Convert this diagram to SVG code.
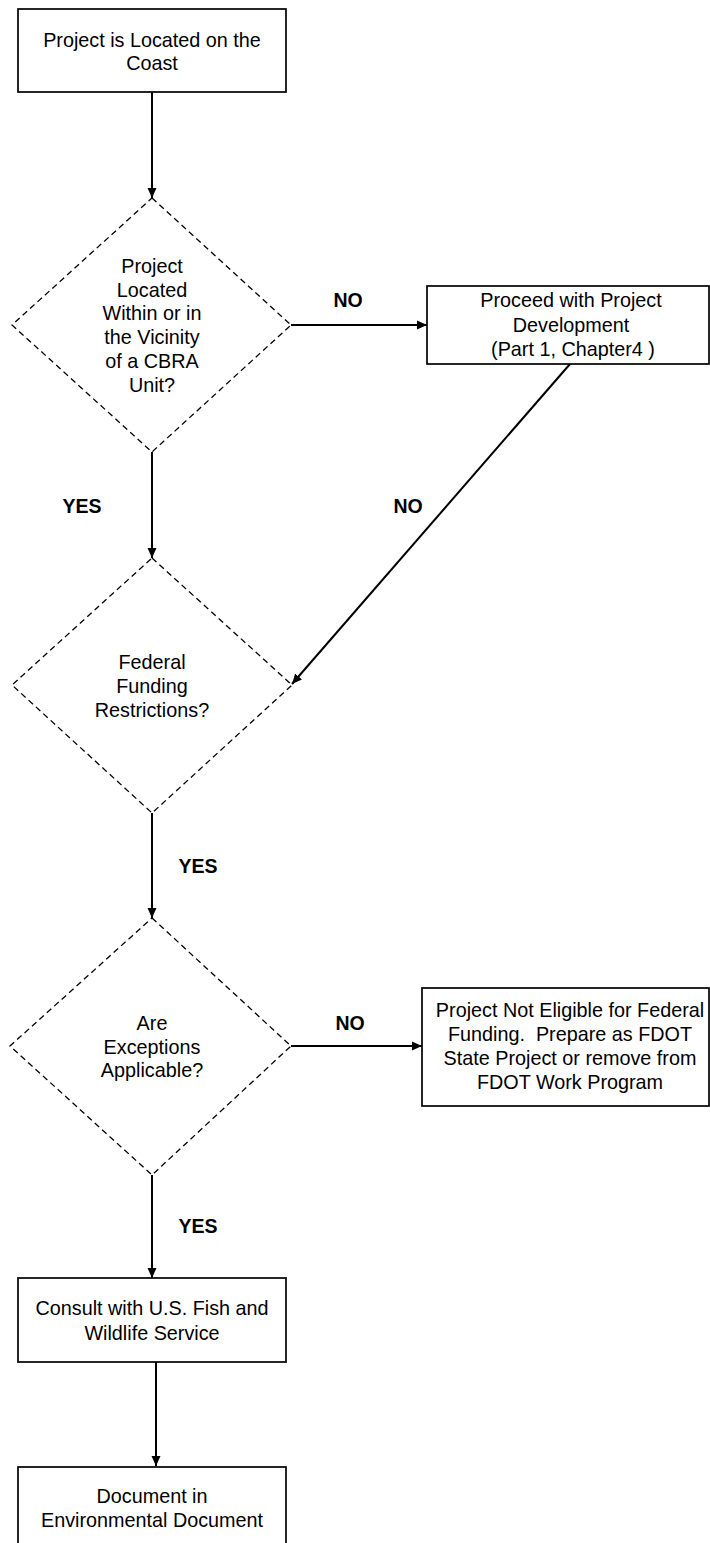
<svg xmlns="http://www.w3.org/2000/svg" width="710" height="1543" viewBox="0 0 710 1543">
<style>
.box{fill:#fff;stroke:#000;stroke-width:1.7}
.dia{fill:#fff;stroke:#000;stroke-width:1.3;stroke-dasharray:6 4}
.t{font-family:"Liberation Sans",Arial,sans-serif;font-size:19.8px;fill:#000;text-anchor:middle;white-space:pre}
.lb{font-family:"Liberation Sans",Arial,sans-serif;font-size:19.5px;font-weight:bold;fill:#000;text-anchor:middle}
.c{stroke:#000;stroke-width:2;fill:none;marker-end:url(#ah)}
</style>
<defs>
<marker id="ah" markerWidth="10" markerHeight="10" refX="10" refY="5" orient="auto" markerUnits="userSpaceOnUse">
<path d="M0,0.5 L10,5 L0,9.5 z" fill="#000"/>
</marker>
</defs>
<rect width="710" height="1543" fill="#fff"/>
<g id="connectors">
<line class="c" x1="152" y1="92" x2="152" y2="198"/>
<line class="c" x1="291" y1="325" x2="427" y2="325"/>
<line class="c" x1="152" y1="452" x2="152" y2="558"/>
<line class="c" x1="570" y1="364" x2="292" y2="684"/>
<line class="c" x1="152" y1="813" x2="152" y2="918"/>
<line class="c" x1="291" y1="1046" x2="422" y2="1046"/>
<line class="c" x1="152" y1="1175" x2="152" y2="1278"/>
<line class="c" x1="156" y1="1362" x2="156" y2="1466"/>
<text class="lb" x="348" y="307">NO</text>
<text class="lb" x="82" y="513">YES</text>
<text class="lb" x="408" y="513">NO</text>
<text class="lb" x="198" y="873">YES</text>
<text class="lb" x="350" y="1030">NO</text>
<text class="lb" x="198" y="1233">YES</text>
</g>
<g id="start">
<rect class="box" x="18" y="9" width="268" height="83"/>
<text class="t" x="152" y="47">Project is Located on the</text>
<text class="t" x="152" y="70">Coast</text>
</g>
<g id="d1">
<polygon class="dia" points="152,198 291,325 152,452 12,325"/>
<text class="t" x="152" y="273">Project</text>
<text class="t" x="152" y="296.5">Located</text>
<text class="t" x="152" y="320">Within or in</text>
<text class="t" x="152" y="344">the Vicinity</text>
<text class="t" x="152" y="368">of a CBRA</text>
<text class="t" x="152" y="392">Unit?</text>
</g>
<g id="proceed">
<rect class="box" x="427" y="286" width="282" height="78"/>
<text class="t" x="571" y="307">Proceed with Project</text>
<text class="t" x="571" y="332">Development</text>
<text class="t" x="573" y="356">(Part 1, Chapter4 )</text>
</g>
<g id="d2">
<polygon class="dia" points="152,558 292,685 152,813 12,685"/>
<text class="t" x="152" y="669">Federal</text>
<text class="t" x="152" y="693">Funding</text>
<text class="t" x="152" y="717">Restrictions?</text>
</g>
<g id="d3">
<polygon class="dia" points="152,918 291,1046 152,1175 10,1046"/>
<text class="t" x="152" y="1030">Are</text>
<text class="t" x="152" y="1054">Exceptions</text>
<text class="t" x="152" y="1077">Applicable?</text>
</g>
<g id="noteligible">
<rect class="box" x="422" y="988" width="287" height="118"/>
<text class="t" x="570" y="1017">Project Not Eligible for Federal</text>
<text class="t" x="570" y="1041">Funding.  Prepare as FDOT</text>
<text class="t" x="570" y="1065">State Project or remove from</text>
<text class="t" x="570" y="1089">FDOT Work Program</text>
</g>
<g id="consult">
<rect class="box" x="18" y="1278" width="268" height="84"/>
<text class="t" x="152" y="1315">Consult with U.S. Fish and</text>
<text class="t" x="152" y="1340">Wildlife Service</text>
</g>
<g id="document">
<rect class="box" x="18" y="1467" width="268" height="90"/>
<text class="t" x="152" y="1503">Document in</text>
<text class="t" x="152" y="1527">Environmental Document</text>
</g>
</svg>
